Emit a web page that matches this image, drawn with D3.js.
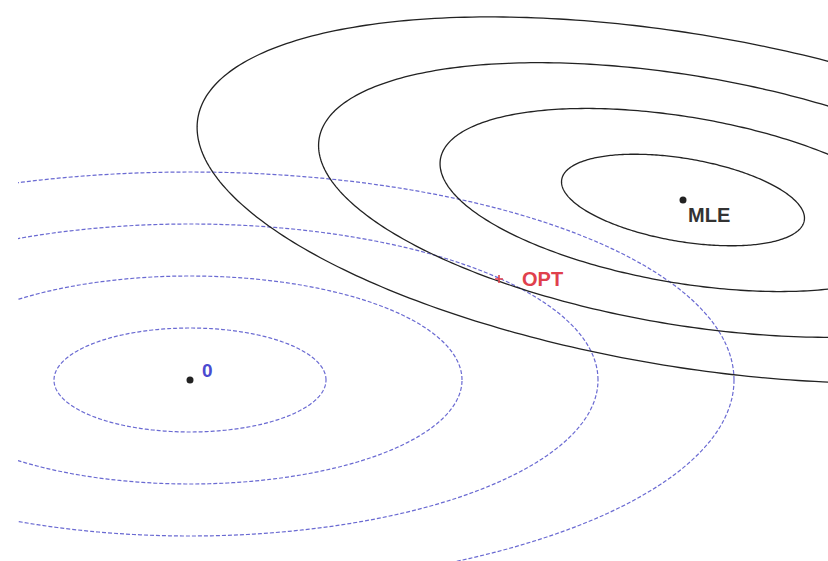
<!DOCTYPE html>
<html>
<head>
<meta charset="utf-8">
<script src="https://cdn.jsdelivr.net/npm/d3@7"></script>
<style>
  html, body { margin: 0; padding: 0; background: #fff; }
  svg { display: block; }
</style>
</head>
<body>
<svg id="chart" width="828" height="561"></svg>
<script>
// Contour levels (multiples of the base ellipse)
const levels = [1, 2, 3, 4];

// Points
const originPt = [0, 0];
const mlePt = [4.93, 1.80];
const optPt = [3.09, 1.01];

// Penalty contours around the origin: semi-axes (x, y), axis aligned
const penaltyAxes = [1.36, 0.52];

// Likelihood contours around the MLE: semi-axes and tilt (degrees)
const likelihoodAxes = [1.23, 0.415];
const likelihoodTilt = -9.6;

// Labels
const labels = { origin: "0", mle: "MLE", opt: "OPT" };

const W = 828, H = 561;
const svg = d3.select("#chart");

// 100 px per unit on both axes so shapes keep their aspect
const x = d3.scaleLinear().domain([-1.9, 6.38]).range([0, W]);
const y = d3.scaleLinear().domain([3.8, -1.81]).range([0, H]);

const line = d3.line().x(d => x(d[0])).y(d => y(d[1])).curve(d3.curveLinearClosed);

function ellipsePoints(c, axes, k, tiltDeg) {
  const t = tiltDeg * Math.PI / 180;
  const ct = Math.cos(t), st = Math.sin(t);
  return d3.range(0, 360, 1).map(a => {
    const r = a * Math.PI / 180;
    const u = axes[0] * k * Math.cos(r), v = axes[1] * k * Math.sin(r);
    return [c[0] + u * ct - v * st, c[1] + u * st + v * ct];
  });
}

svg.append("defs").append("clipPath").attr("id", "plotClip")
  .append("rect").attr("x", 18).attr("y", 0).attr("width", W - 18).attr("height", H);

// Penalty contours (blue, dashed)
svg.append("g").attr("clip-path", "url(#plotClip)")
  .selectAll("path").data(levels).join("path")
  .attr("d", k => line(ellipsePoints(originPt, penaltyAxes, k, 0)))
  .attr("fill", "none")
  .attr("stroke", "#6a6ad2")
  .attr("stroke-width", 1.2)
  .attr("stroke-dasharray", "4 2");

// Likelihood contours (black, solid)
svg.append("g")
  .selectAll("path").data(levels).join("path")
  .attr("d", k => line(ellipsePoints(mlePt, likelihoodAxes, k, likelihoodTilt)))
  .attr("fill", "none")
  .attr("stroke", "#222")
  .attr("stroke-width", 1.3);

// Points
svg.append("circle").attr("cx", x(originPt[0])).attr("cy", y(originPt[1])).attr("r", 3.5).attr("fill", "#222");
svg.append("circle").attr("cx", x(mlePt[0])).attr("cy", y(mlePt[1])).attr("r", 3.5).attr("fill", "#222");

// OPT marker (+)
const ox = x(optPt[0]), oy = y(optPt[1]);
svg.append("path")
  .attr("d", `M${ox - 4},${oy}H${ox + 4}M${ox},${oy - 4}V${oy + 4}`)
  .attr("stroke", "#e0404c").attr("stroke-width", 1.6);

const font = "Liberation Sans, Arial, sans-serif";

svg.append("text").attr("x", x(originPt[0]) + 12).attr("y", y(originPt[1]) - 3)
  .attr("font-family", font).attr("font-weight", "bold")
  .attr("font-size", 19).attr("fill", "#4a4ad0").text(labels.origin);

svg.append("text").attr("x", x(mlePt[0]) + 5).attr("y", y(mlePt[1]) + 22)
  .attr("font-family", font).attr("font-weight", "bold")
  .attr("font-size", 20).attr("fill", "#333").text(labels.mle);

svg.append("text").attr("x", ox + 23).attr("y", oy + 7)
  .attr("font-family", font).attr("font-weight", "bold")
  .attr("font-size", 20).attr("fill", "#e0404c").text(labels.opt);
</script>
</body>
</html>
